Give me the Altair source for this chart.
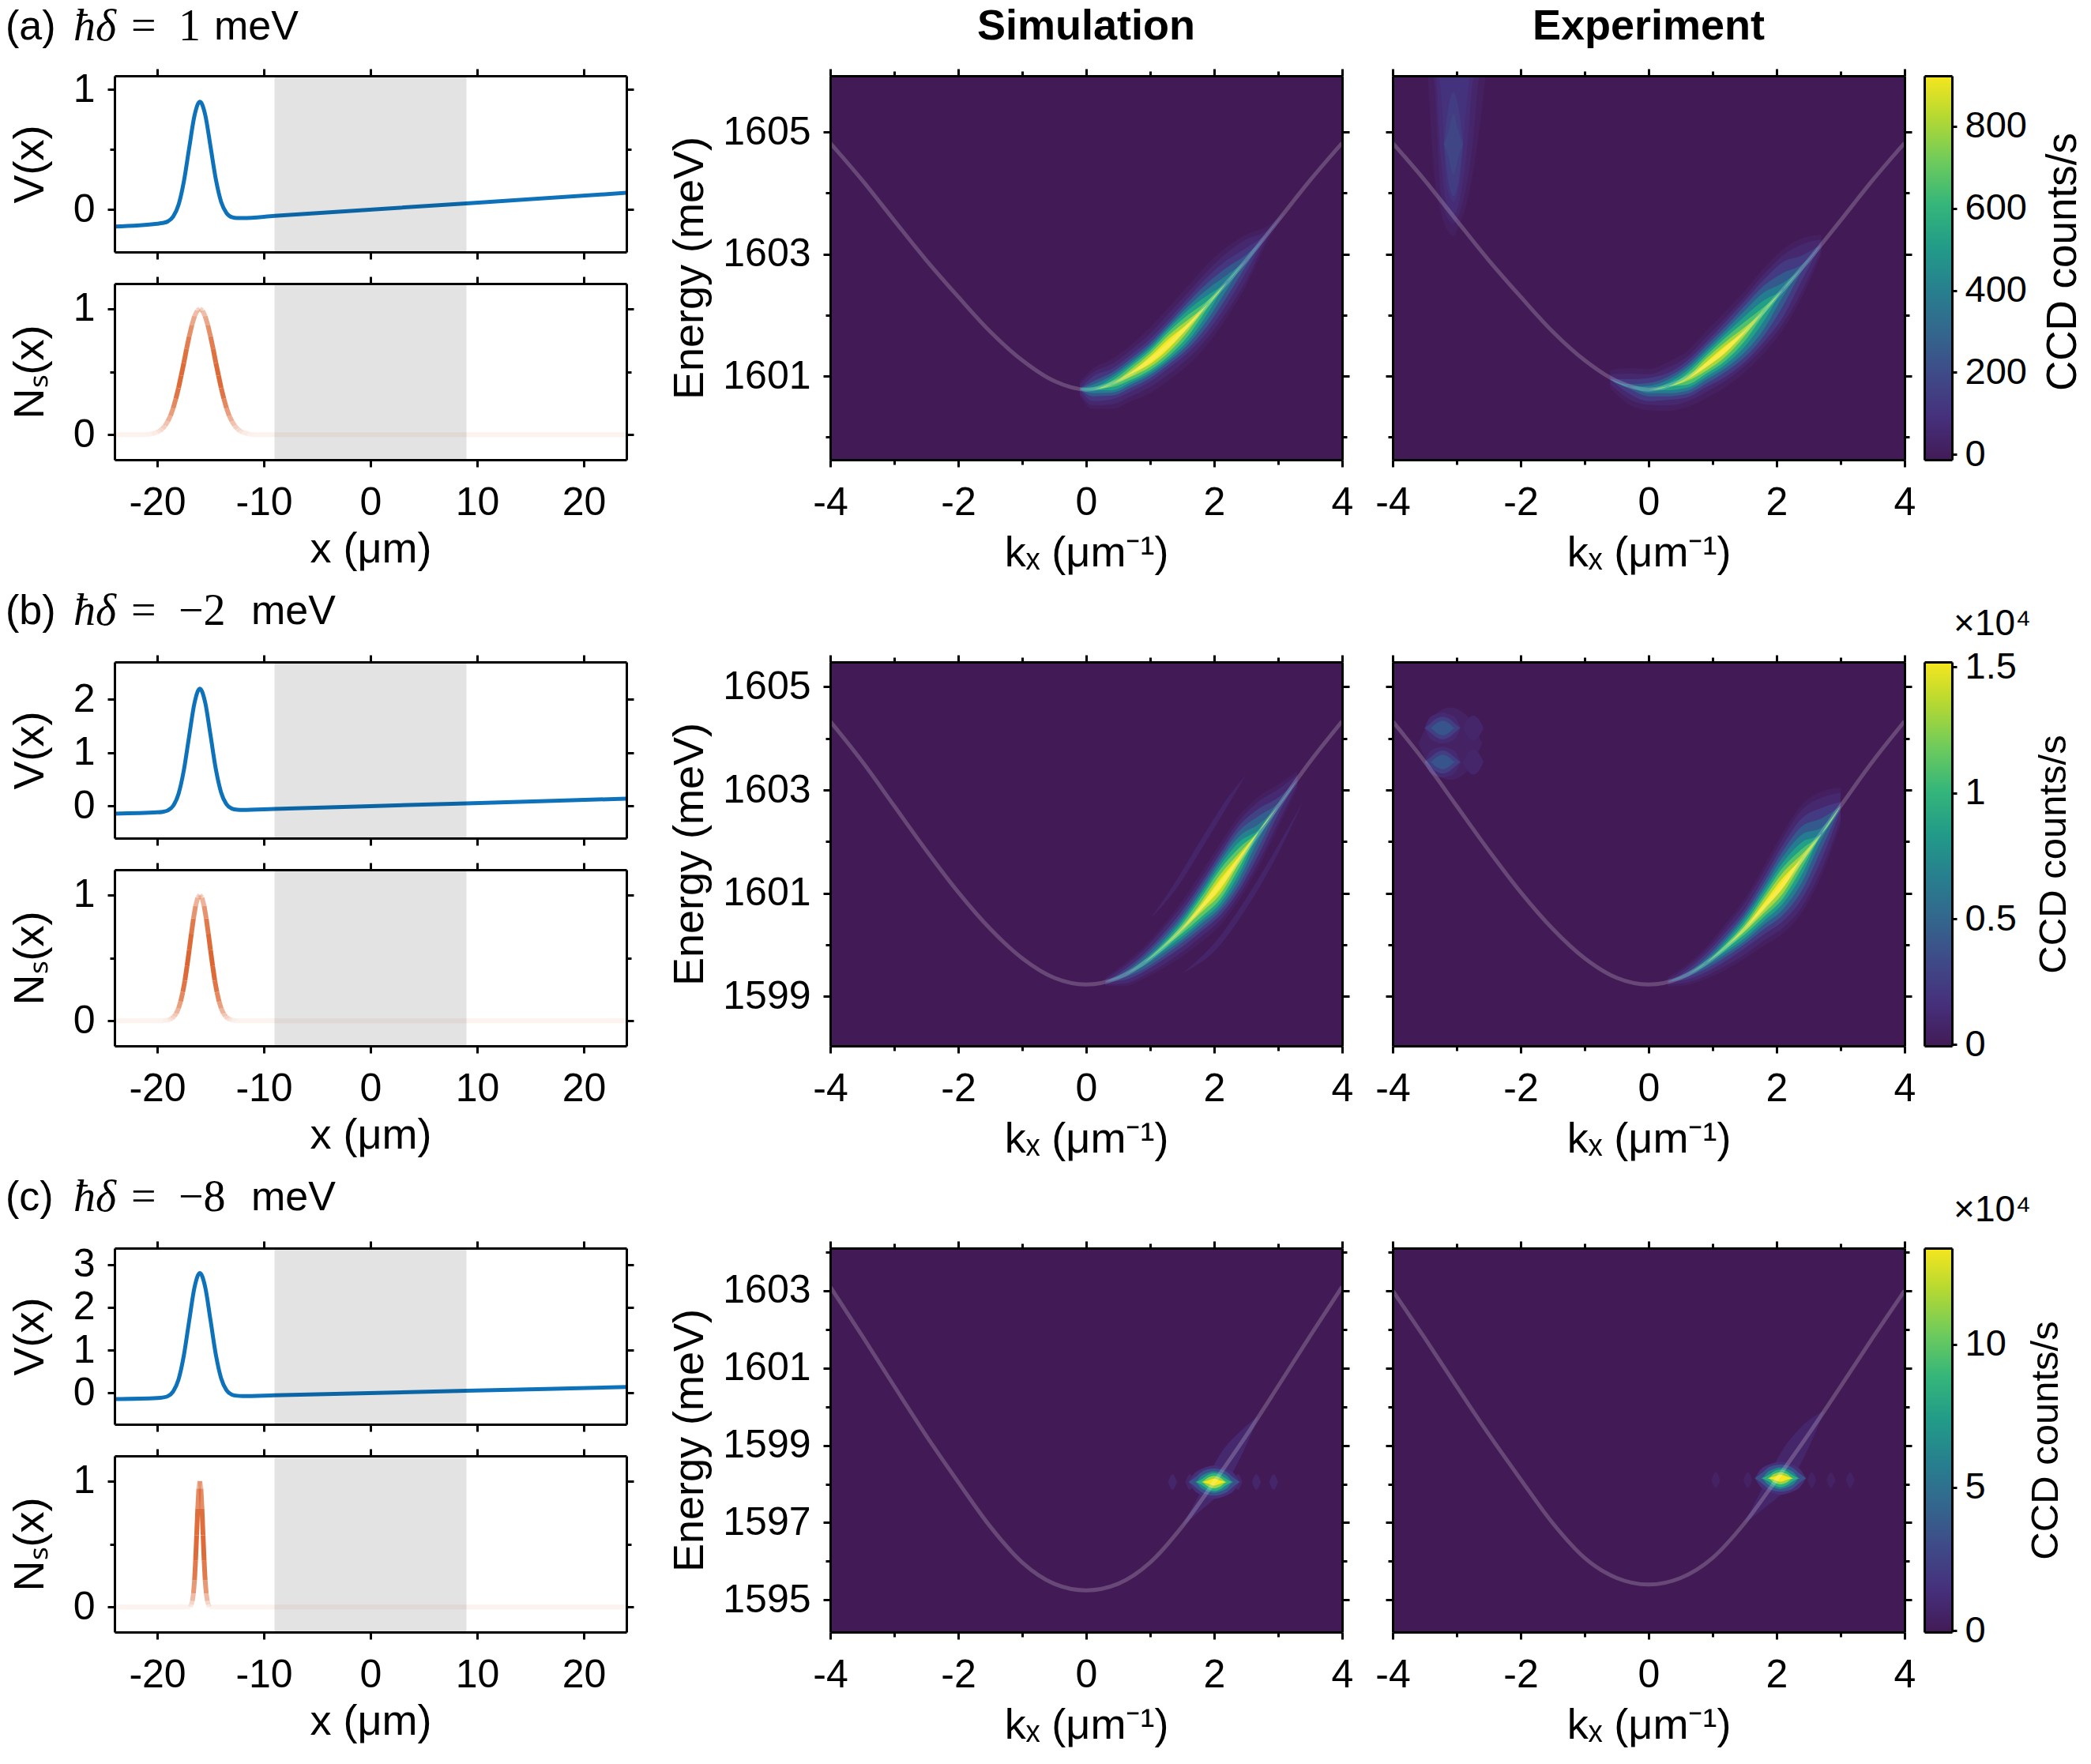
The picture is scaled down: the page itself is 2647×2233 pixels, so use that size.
import altair as alt

SANS = "Liberation Sans"
SERIF = "Liberation Serif"
BLUE = "#0d72b9"
ORANGE = "#dc6632"
STOPS = ["#421b56", "#46307c", "#3f4a88", "#33678d", "#27808e",
         "#229c88", "#35b67a", "#6ecb5c", "#b3d833", "#f5e61e"]
ONE = alt.Data(values=[{"a": 1}])

# ---------- left column data ----------
X_V = [-24, -20, -19.5, -19, -18.5, -18, -17.5, -17, -16.5, -16, -15.5, -15, -14.5,
       -14, -13.5, -13, -12.5, -12, -9, 9, 24]
V_A = [-.14, -.117, -.111, -.098, -.058, .04, .235, .515, .785, .9, .791, .526, .252,
       .063, -.029, -.063, -.07, -.07, -.0525, .0525, .14]
V_B = [-.14, -.117, -.107, -.08, .007, .23, .674, 1.316, 1.935, 2.2, 1.942, 1.328, .691,
       .252, .035, -.046, -.066, -.07, -.0525, .0525, .14]
V_C = [-.14, -.117, -.105, -.073, .037, .317, .878, 1.687, 2.467, 2.8, 2.473, 1.699, .895,
       .34, .066, -.038, -.064, -.07, -.0525, .0525, .14]

D_A = [0, .25, .5, .75, 1, 1.25, 1.5, 1.75, 2, 2.25, 2.5, 2.75, 3, 3.25, 3.5, 3.75, 4, 4.5, 5]
N_A = [1, .985, .94, .87, .78, .68, .57, .47, .37, .285, .21, .15, .107, .072, .048, .03, .019, .006, 0]
O_A = [.25, .35, .5, .65, .8, .9, .95, 1, .95, .85, .7, .58, .45, .35, .28, .2, .15, .1, .08]
D_B = [0, .2, .4, .6, .8, 1, 1.2, 1.4, 1.6, 1.8, 2, 2.2, 2.4, 2.6, 2.8, 3, 3.4]
N_B = [1, .977, .912, .812, .69, .56, .435, .32, .228, .153, .099, .061, .036, .02, .011, .006, 0]
O_B = [.25, .4, .6, .8, .95, 1, 1, .95, .85, .7, .55, .42, .32, .24, .18, .12, .08]
D_C = [0, .1, .2, .3, .4, .5, .6, .7, .8, .9]
N_C = [1, .94, .78, .57, .37, .21, .107, .048, .019, 0]
O_C = [.3, .6, .9, 1, .95, .8, .55, .35, .2, .08]

# ---------- dispersion curves (right half, mirrored) ----------
K_HALF = [4, 3.5, 3, 2.5, 2, 1.5, 1, .5, 0]
E_A_C = [1604.82, 1604.21, 1603.55, 1602.9, 1602.3, 1601.73, 1601.26, 1600.92, 1600.78]
E_B_C = [1604.33, 1603.55, 1602.69, 1601.83, 1601.02, 1600.31, 1599.74, 1599.36, 1599.23]
E_C_S = [1603.1, 1601.83, 1600.53, 1599.25, 1598.05, 1596.9, 1595.97, 1595.42, 1595.25]
E_C_E = [1603.0, 1601.78, 1600.52, 1599.29, 1598.12, 1596.99, 1596.09, 1595.57, 1595.4]

# ---------- intensity contours ----------
# each blob: stations kx, ridge energy, {relative intensity: half thickness in meV}
A_SIM = ([-.1, .1, .4, .7, 1.0, 1.3, 1.6, 1.9, 2.2, 2.5, 2.8, 3.1],
         [1600.79, 1600.79, 1600.87, 1601.05, 1601.26, 1601.54, 1601.84, 1602.18, 1602.54, 1602.9, 1603.29, 1603.68],
         {.03: [.12, .33, .41, .46, .54, .6, .65, .66, .58, .42, .15, 0],
          .07: [.08, .27, .33, .38, .44, .5, .54, .55, .48, .34, .08, 0],
          .14: [0, .2, .25, .3, .35, .4, .45, .45, .36, .2, .03, 0],
          .27: [0, .12, .19, .24, .29, .34, .38, .35, .24, .09, 0, 0],
          .42: [0, .07, .14, .19, .24, .29, .31, .25, .12, 0, 0, 0],
          .57: [0, .02, .1, .15, .2, .25, .25, .15, 0, 0, 0, 0],
          .72: [0, 0, .05, .11, .16, .2, .17, .06, 0, 0, 0, 0],
          .87: [0, 0, 0, .06, .11, .14, .09, 0, 0, 0, 0, 0],
          1.0: [0, 0, 0, .01, .06, .08, .03, 0, 0, 0, 0, 0]})
A_EXP = ([-.6, -.3, 0, .3, .6, .9, 1.2, 1.5, 1.8, 2.1, 2.4, 2.7],
         [1600.95, 1600.83, 1600.78, 1600.83, 1600.95, 1601.19, 1601.44, 1601.73, 1602.07, 1602.42, 1602.78, 1603.16],
         {.03: [.15, .3, .34, .4, .46, .55, .62, .67, .7, .66, .48, .16],
          .07: [.08, .21, .25, .31, .37, .45, .52, .57, .6, .56, .38, .08],
          .15: [0, .12, .19, .22, .3, .37, .45, .5, .51, .45, .2, 0],
          .28: [0, .04, .11, .16, .24, .31, .37, .42, .41, .27, .05, 0],
          .42: [0, 0, .06, .11, .19, .25, .31, .34, .3, .11, 0, 0],
          .57: [0, 0, 0, .06, .14, .2, .25, .25, .17, 0, 0, 0],
          .72: [0, 0, 0, 0, .09, .15, .19, .16, .06, 0, 0, 0],
          .87: [0, 0, 0, 0, .03, .1, .12, .07, 0, 0, 0, 0],
          1.0: [0, 0, 0, 0, 0, .04, .06, .01, 0, 0, 0, 0]})
A_EXP_BAND = ([-3.45, -3.35, -3.25, -3.15, -3.05, -2.95, -2.85, -2.75, -2.65, -2.55],
              [1606.2] * 10,
              {.03: [.3, 1.9, 2.5, 2.8, 2.9, 2.7, 2.4, 1.9, 1.2, .3],
               .06: [0, .4, 2.2, 2.6, 2.7, 2.5, 2.1, 1.4, .3, 0],
               .09: [0, 0, 1.6, 2.4, 2.55, 2.3, 1.6, .4, 0, 0],
               .12: [0, 0, .5, 2.1, 2.35, 2.0, .8, 0, 0, 0]})
A_EXP_CORE = ([-3.2, -3.13, -3.05, -2.97, -2.9], [1604.8] * 5,
              {.16: [0, .6, .85, .6, 0], .2: [0, .2, .5, .2, 0]})
B_STATIONS = [.3, .6, .9, 1.2, 1.5, 1.8, 2.1, 2.4, 2.7, 3.0, 3.3]
B_RIDGE = [1599.28, 1599.42, 1599.65, 1599.96, 1600.31, 1600.73, 1601.18, 1601.7, 1602.2, 1602.69, 1603.2]
B_SIM = (B_STATIONS, B_RIDGE,
         {.03: [.08, .22, .31, .42, .54, .68, .8, .82, .68, .42, .16],
          .08: [.05, .17, .25, .35, .45, .57, .7, .72, .58, .32, .1],
          .18: [0, .1, .17, .25, .35, .47, .6, .62, .44, .16, 0],
          .3: [0, .05, .12, .19, .27, .4, .52, .52, .3, .05, 0],
          .45: [0, 0, .06, .12, .21, .32, .45, .41, .14, 0, 0],
          .6: [0, 0, 0, .07, .15, .26, .37, .3, .03, 0, 0],
          .75: [0, 0, 0, .02, .09, .19, .29, .19, 0, 0, 0],
          .9: [0, 0, 0, 0, .02, .1, .19, .09, 0, 0, 0],
          1.0: [0, 0, 0, 0, 0, .04, .1, .03, 0, 0, 0]})
B_LOBE_UP = ([1.0, 1.4, 1.8, 2.2, 2.5],
             [1600.5, 1601.15, 1601.95, 1602.75, 1603.3],
             {.05: [0, .08, .1, .08, 0]})
B_LOBE_DN = ([1.5, 2.0, 2.5, 3.0, 3.4],
             [1599.45, 1599.95, 1600.8, 1601.85, 1602.8],
             {.05: [0, .08, .1, .08, 0]})
B_EXP = ([.3, .6, .9, 1.2, 1.5, 1.8, 2.1, 2.4, 2.7, 3.0],
         [1599.28, 1599.42, 1599.65, 1599.96, 1600.31, 1600.75, 1601.2, 1601.68, 1602.15, 1602.69],
         {.03: [.09, .2, .31, .45, .58, .77, .98, 1.05, .82, .36],
          .07: [.05, .15, .25, .37, .5, .67, .87, .94, .7, .26],
          .15: [0, .09, .18, .28, .38, .55, .74, .78, .5, .08],
          .28: [0, .04, .11, .2, .3, .45, .62, .62, .3, 0],
          .42: [0, 0, .06, .14, .24, .36, .51, .46, .12, 0],
          .57: [0, 0, 0, .09, .18, .29, .4, .31, 0, 0],
          .72: [0, 0, 0, .04, .11, .21, .3, .18, 0, 0],
          .87: [0, 0, 0, 0, .05, .14, .2, .08, 0, 0],
          1.0: [0, 0, 0, 0, 0, .06, .1, 0, 0, 0]})
SPOT_K = [-3.5, -3.42, -3.32, -3.22, -3.12, -3.02, -2.94]
SPOT_LV = {.08: [0, .2, .27, .3, .27, .2, 0],
           .17: [0, .08, .18, .22, .18, .08, 0],
           .26: [0, 0, .09, .14, .09, 0, 0]}
B_GLOW = ([-3.6, -3.35, -3.1, -2.85, -2.6], [1603.9] * 5, {.04: [0, .55, .7, .55, 0]})
B_SPOT1 = (SPOT_K, [1604.2] * 7, SPOT_LV)
B_SPOT2 = (SPOT_K, [1603.54] * 7, SPOT_LV)
B_SIDE_K = [-2.9, -2.82, -2.74, -2.66, -2.58]
B_SIDE1 = (B_SIDE_K, [1604.2] * 5, {.06: [0, .18, .24, .18, 0]})
B_SIDE2 = (B_SIDE_K, [1603.54] * 5, {.06: [0, .18, .24, .18, 0]})
C_K = [1.6, 1.7, 1.8, 1.9, 2.0, 2.1, 2.2, 2.3, 2.4]
C_LEVELS = {.1: [0, .24, .34, .4, .43, .4, .34, .24, 0],
            .25: [0, .12, .26, .33, .35, .33, .26, .12, 0],
            .45: [0, 0, .16, .24, .28, .24, .16, 0, 0],
            .65: [0, 0, .07, .18, .23, .18, .07, 0, 0],
            .85: [0, 0, 0, .11, .16, .11, 0, 0, 0],
            1.0: [0, 0, 0, .04, .09, .04, 0, 0, 0]}
C_SIM = (C_K, [1598.05] * 9, C_LEVELS)
C_SIM_TAIL = ([1.5, 1.8, 2.1, 2.4, 2.7], [1596.9, 1597.58, 1598.29, 1599.0, 1599.76],
              {.07: [0, .25, .5, .35, 0]})
C_EXP = ([1.66, 1.76, 1.86, 1.96, 2.06, 2.16, 2.26, 2.36, 2.46], [1598.15] * 9, C_LEVELS)
C_EXP_TAIL = ([1.5, 1.8, 2.1, 2.4, 2.75], [1596.99, 1597.67, 1598.35, 1599.05, 1599.9],
              {.06: [0, .3, .55, .45, 0]})
FRINGE_SIM = [1.35, 1.62, 2.37, 2.66, 2.93]
FRINGE_EXP = [1.05, 1.55, 2.55, 2.85, 3.15]

CB_A = [-13, 923]
CB_B = [-.005, 1.52]
CB_C = [-.05, 13.35]


# ---------- helpers ----------
def label(txt, x, y, size=54, font=SANS, align="left", weight="normal", style="normal"):
    return alt.Chart(ONE).mark_text(
        text=txt, align=align, baseline="middle", font=font, fontSize=size,
        fontWeight=weight, fontStyle=style, color="black"
    ).encode(x=alt.value(x), y=alt.value(y))


def ax(orient, values, size=9, ticks=True, labels=False, domain=True, **kw):
    opts = dict(orient=orient, values=values, ticks=ticks, tickSize=size, tickWidth=3,
                tickColor="black", domain=domain, domainColor="black", domainWidth=3,
                labels=labels, grid=False, zindex=1, title=None)
    if labels:
        opts.update(labelFont=SANS, labelFontSize=50, labelColor="black", labelOverlap=False,
                    labelFlush=False, labelBound=False, labelExpr="'' + datum.value")
    opts.update(kw)
    return alt.Axis(**opts)


def title_opts(text, pos, horizontal):
    o = dict(title=text, titleFont=SANS, titleFontSize=54, titleFontWeight="normal",
             titleColor="black", titleBaseline="middle", titleAlign="center")
    if horizontal:
        o.update(titleY=pos, titleAngle=0)
    else:
        o.update(titleX=pos, titleAngle=270)
    return o


def axes_layers(xs, ys, x0, y0, axes):
    out = []
    for xa, ya in axes:
        out.append(alt.Chart(alt.Data(values=[{"x": x0, "y": y0}])).mark_point(opacity=0).encode(
            x=alt.X("x:Q", scale=xs, axis=xa), y=alt.Y("y:Q", scale=ys, axis=ya)))
    return out


def shade(xs, ys, yd):
    return alt.Chart(alt.Data(values=[{"x": -9, "x2": 9, "y": yd[0], "y2": yd[1]}])).mark_rect(
        color="black", opacity=.11).encode(
        x=alt.X("x:Q", scale=xs, axis=None), x2="x2:Q",
        y=alt.Y("y:Q", scale=ys, axis=None), y2="y2:Q")


def v_panel(values, yd, ymaj, ymin, head, w=648, h=223):
    xs = alt.Scale(domain=[-24, 24], nice=False, zero=False)
    ys = alt.Scale(domain=yd, nice=False, zero=False)
    xa, ya = alt.X("x:Q", scale=xs, axis=None), alt.Y("y:Q", scale=ys, axis=None)
    rows = [{"x": x, "y": v} for x, v in zip(X_V, values)]
    line = alt.Chart(alt.Data(values=rows)).mark_line(
        color=BLUE, strokeWidth=5, interpolate="monotone", clip=True).encode(x=xa, y=ya)
    gray = shade(xs, ys, yd)
    xt = [-20, -10, 0, 10, 20]
    frame = axes_layers(xs, ys, 0, 0, [
        (ax("bottom", xt), ax("left", ymaj, labels=True, labelPadding=16,
                              **title_opts("V(x)", -107, False))),
        (ax("top", xt), ax("right", ymaj)),
        (ax("bottom", [], ticks=False, domain=False), ax("left", ymin, size=6, domain=False)),
        (ax("top", [], ticks=False, domain=False), ax("right", ymin, size=6, domain=False)),
    ])
    return alt.layer(line, gray, *frame, *head).resolve_axis(
        x="independent", y="independent").properties(width=w, height=h)


def n_panel(d, n, o, w=648, h=223):
    yd = [-.2, 1.2]
    xs = alt.Scale(domain=[-24, 24], nice=False, zero=False)
    ys = alt.Scale(domain=yd, nice=False, zero=False)
    xp = [-16 - v for v in d[::-1]] + [-16 + v for v in d[1:]]
    np_ = n[::-1] + n[1:]
    op = o[::-1] + o[1:]
    xp = [-24] + xp + [24]
    np_ = [0] + np_ + [0]
    op = [o[-1]] + op + [o[-1]]
    rows = []
    for i in range(len(xp) - 1):
        rows.append({"x": xp[i], "x2": xp[i + 1], "y": np_[i], "y2": np_[i + 1],
                     "a": (op[i] + op[i + 1]) / 2})
    seg = alt.Chart(alt.Data(values=rows)).mark_rule(
        color=ORANGE, strokeWidth=6, strokeCap="butt", clip=True).encode(
        x=alt.X("x:Q", scale=xs, axis=None), x2="x2:Q",
        y=alt.Y("y:Q", scale=ys, axis=None), y2="y2:Q",
        opacity=alt.Opacity("a:Q", scale=None, legend=None))
    gray = shade(xs, ys, yd)
    xt = [-20, -10, 0, 10, 20]
    frame = axes_layers(xs, ys, 0, 0, [
        (ax("bottom", xt, labels=True, labelPadding=20, **title_opts("x (μm)", 113, True)),
         ax("left", [0, 1], labels=True, labelPadding=16, **title_opts("Nₛ(x)", -107, False))),
        (ax("top", xt), ax("right", [0, 1])),
        (ax("bottom", [], ticks=False, domain=False), ax("left", [.5], size=6, domain=False)),
        (ax("top", [], ticks=False, domain=False), ax("right", [.5], size=6, domain=False)),
    ])
    return alt.layer(seg, gray, *frame).resolve_axis(
        x="independent", y="independent").properties(width=w, height=h)


def blob(b, xs, ys, color):
    k, ridge, levels = b
    rows = []
    for lv, half in levels.items():
        for ki, ri, hi in zip(k, ridge, half):
            rows.append({"k": ki, "lo": ri - hi, "hi": ri + hi, "level": lv})
    return alt.Chart(alt.Data(values=rows)).mark_area(interpolate="monotone", clip=True).encode(
        x=alt.X("k:Q", scale=xs, axis=None),
        y=alt.Y("lo:Q", scale=ys, axis=None), y2="hi:Q",
        color=color)


def fringe(center, ridge, lv):
    return ([center - .07, center, center + .07], [ridge] * 3, {lv: [0, .2, 0]})


def heat_panel(yd, ymaj, ymin, curve, blobs, left_labels, head=(), w=648, h=486):
    xs = alt.Scale(domain=[-4, 4], nice=False, zero=False)
    ys = alt.Scale(domain=yd, nice=False, zero=False)
    color = alt.Color("level:Q", scale=alt.Scale(domain=[0, 1], range=STOPS), legend=None)
    bg = alt.Chart(alt.Data(values=[{"x": -4, "x2": 4, "y": yd[0], "y2": yd[1], "level": 0}])).mark_rect().encode(
        x=alt.X("x:Q", scale=xs, axis=None), x2="x2:Q",
        y=alt.Y("y:Q", scale=ys, axis=None), y2="y2:Q", color=color)
    layers = [bg] + [blob(b, xs, ys, color) for b in blobs]
    rows = [{"k": -k, "e": e} for k, e in zip(K_HALF, curve)] + \
           [{"k": k, "e": e} for k, e in zip(K_HALF[-2::-1], curve[-2::-1])]
    layers.append(alt.Chart(alt.Data(values=rows)).mark_line(
        color="white", opacity=.2, strokeWidth=5, interpolate="monotone", clip=True).encode(
        x=alt.X("k:Q", scale=xs, axis=None), y=alt.Y("e:Q", scale=ys, axis=None)))
    kt, km = [-4, -2, 0, 2, 4], [-3, -1, 1, 3]
    kw = dict(labels=True, labelPadding=20)
    yax = ax("left", ymaj, labels=True, labelPadding=16,
             **title_opts("Energy (meV)", -178, False)) if left_labels else ax("left", ymaj)
    frame = axes_layers(xs, ys, 0, ymaj[0], [
        (ax("bottom", kt, **kw, **title_opts("kₓ (μm⁻¹)", 118, True)), yax),
        (ax("top", kt), ax("right", ymaj)),
        (ax("bottom", km, size=6, domain=False), ax("left", ymin, size=6, domain=False)),
        (ax("top", km, size=6, domain=False), ax("right", ymin, size=6, domain=False)),
    ])
    return alt.layer(*layers, *frame, *head).resolve_axis(
        x="independent", y="independent").properties(width=w, height=h)


def cbar_panel(yd, ticks, tx, ty, tsize, head=(), w=35, h=486):
    xs = alt.Scale(domain=[0, 1], nice=False, zero=False)
    ys = alt.Scale(domain=yd, nice=False, zero=False)
    grad = alt.Gradient(gradient="linear", x1=0, x2=0, y1=1, y2=0,
                        stops=[alt.GradientStop(offset=i / (len(STOPS) - 1), color=c)
                               for i, c in enumerate(STOPS)])
    bar = alt.Chart(alt.Data(values=[{"x": 0, "x2": 1, "y": yd[0], "y2": yd[1]}])).mark_rect(color=grad).encode(
        x=alt.X("x:Q", scale=xs, axis=None), x2="x2:Q",
        y=alt.Y("y:Q", scale=ys, axis=None), y2="y2:Q")
    o = title_opts("CCD counts/s", tx, False)
    o.update(titleY=ty, titleFontSize=tsize)
    frame = axes_layers(xs, ys, 0, ticks[0], [
        (ax("bottom", [], ticks=False), ax("right", ticks, size=6, labels=True, labelPadding=10,
                                           labelFontSize=47, **o)),
        (ax("top", [], ticks=False), ax("left", [], ticks=False)),
    ])
    return alt.layer(bar, *frame, *head).resolve_axis(
        x="independent", y="independent").properties(width=w, height=h)


def spacer(h):
    return alt.Chart(ONE).mark_point(opacity=0).encode(
        x=alt.value(0), y=alt.value(0)).properties(width=648, height=h)


def head(tag, eq, val, mev_x, y=-62):
    return [label(tag, -138, y, size=52),
            label("ħδ", -52, y, size=56, font=SERIF, style="italic"),
            label("=", 21, y, size=56, font=SERIF),
            label(val, 81, y, size=56, font=SERIF),
            label("meV", mev_x, y, size=52)]


left = alt.vconcat(
    v_panel(V_A, [-.353, 1.115], [0, 1], [.5], head("(a)", "=", "1", 126)),
    n_panel(D_A, N_A, O_A),
    spacer(176),
    v_panel(V_B, [-.6, 2.7], [0, 1, 2], [], head("(b)", "=", "−2", 173, -64)),
    n_panel(D_B, N_B, O_B),
    spacer(176),
    v_panel(V_C, [-.73, 3.38], [0, 1, 2, 3], [], head("(c)", "=", "−8", 173, -64)),
    n_panel(D_C, N_C, O_C),
    spacing=40, bounds="flush")

Y_A, Y_B, Y_C = [1599.63, 1605.92], [1598.04, 1605.48], [1594.17, 1604.1]
TICK_A, MIN_A = [1601, 1603, 1605], [1600, 1602, 1604]
TICK_B, MIN_B = [1599, 1601, 1603, 1605], [1600, 1602, 1604]
TICK_C, MIN_C = [1595, 1597, 1599, 1601, 1603], [1596, 1598, 1600, 1602, 1604]

sim = alt.vconcat(
    heat_panel(Y_A, TICK_A, MIN_A, E_A_C, [A_SIM], True,
               [label("Simulation", 324, -62, align="center", weight="bold")]),
    heat_panel(Y_B, TICK_B, MIN_B, E_B_C, [B_LOBE_UP, B_LOBE_DN, B_SIM], True),
    heat_panel(Y_C, TICK_C, MIN_C, E_C_S,
               [C_SIM_TAIL] + [fringe(c, 1598.05, .06) for c in FRINGE_SIM] + [C_SIM], True),
    spacing=256, bounds="flush")

exp = alt.vconcat(
    heat_panel(Y_A, TICK_A, MIN_A, E_A_C, [A_EXP_BAND, A_EXP_CORE, A_EXP], False,
               [label("Experiment", 324, -62, align="center", weight="bold")]),
    heat_panel(Y_B, TICK_B, MIN_B, E_B_C, [B_GLOW, B_SIDE1, B_SIDE2, B_SPOT1, B_SPOT2, B_EXP], False),
    heat_panel(Y_C, TICK_C, MIN_C, E_C_E,
               [C_EXP_TAIL] + [fringe(c, 1598.1, .04) for c in FRINGE_EXP] + [C_EXP], False),
    spacing=256, bounds="flush")

cb = alt.vconcat(
    cbar_panel(CB_A, [0, 200, 400, 600, 800], 140, 235, 53),
    cbar_panel(CB_B, [0, .5, 1, 1.5], 128, 243, 49,
               [label("×10⁴", 86, -48, size=46, align="center")]),
    cbar_panel(CB_C, [0, 5, 10], 118, 243, 49,
               [label("×10⁴", 86, -48, size=46, align="center")]),
    spacing=256, bounds="flush")

chart = alt.hconcat(
    left,
    alt.hconcat(sim, alt.hconcat(exp, cb, spacing=673, bounds="flush"),
                spacing=712, bounds="flush"),
    spacing=906, bounds="flush",
    background="white",
    padding={"left": -1, "top": -2, "right": 0, "bottom": 2},
).configure_view(stroke="transparent", strokeWidth=0)

chart.save("out.html", embed_options={"renderer": "svg", "actions": False})
